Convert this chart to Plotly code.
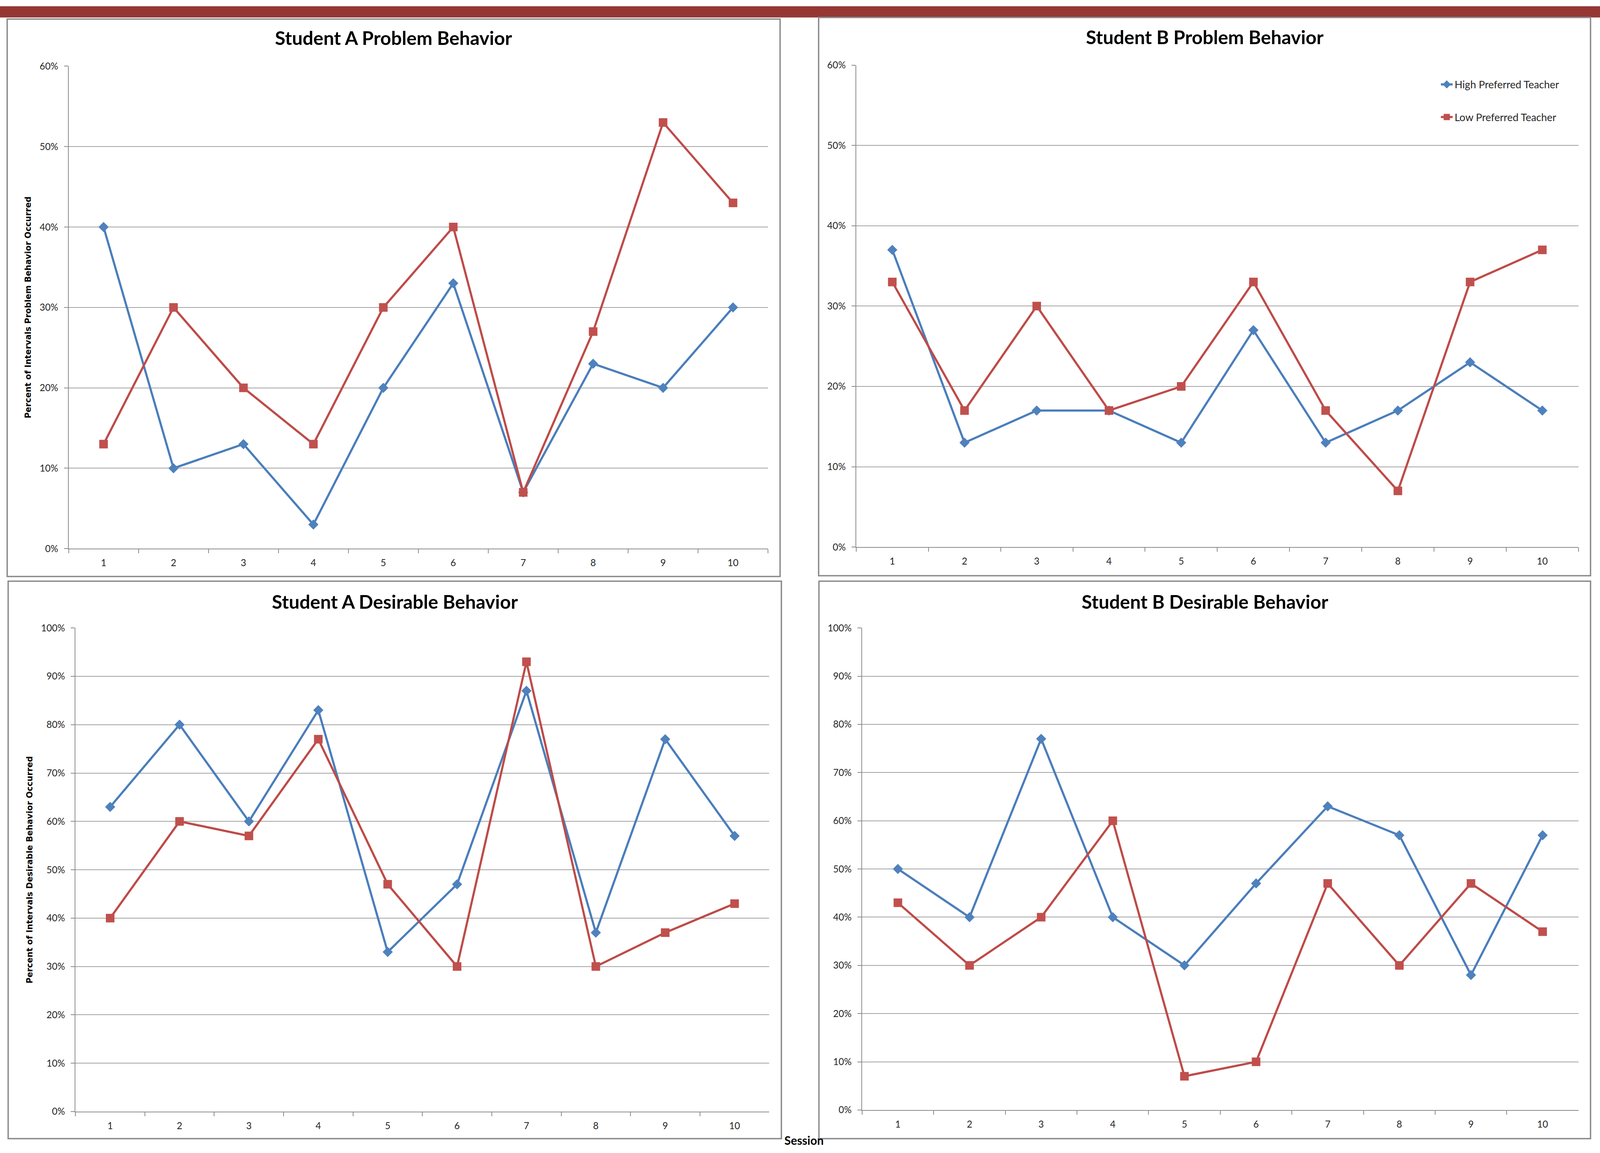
import plotly.graph_objects as go

# reference geometry is measured in reference pixels (4898 x 2951);
# everything is placed as paper fractions so the figure fills the page.
W, H = 4898, 2951
SX = 1.2  # horizontal text widths are scaled down by this factor

# ---------------- data ----------------
sessions = [str(i) for i in range(1, 11)]
series_names = ["High Preferred Teacher", "Low Preferred Teacher"]

a_problem_high = [40, 10, 13, 3, 20, 33, 7, 23, 20, 30]
a_problem_low = [13, 30, 20, 13, 30, 40, 7, 27, 53, 43]

b_problem_high = [37, 13, 17, 17, 13, 27, 13, 17, 23, 17]
b_problem_low = [33, 17, 30, 17, 20, 33, 17, 7, 33, 37]

a_desirable_high = [63, 80, 60, 83, 33, 47, 87, 37, 77, 57]
a_desirable_low = [40, 60, 57, 77, 47, 30, 93, 30, 37, 43]

b_desirable_high = [50, 40, 77, 40, 30, 47, 63, 57, 28, 57]
b_desirable_low = [43, 30, 40, 60, 7, 10, 47, 30, 47, 37]

panel_titles = ["Student A Problem Behavior", "Student B Problem Behavior",
                "Student A Desirable Behavior", "Student B Desirable Behavior"]
y_titles = ["Percent of Intervals Problem Behavior Occurred", None,
            "Percent of Intervals Desirable Behavior Occurred", None]
y_max = [60, 60, 100, 100]
x_title = "Session"

# ---------------- styling ----------------
BLUE_LINE, BLUE_FILL = "#4A7EBB", "#4F81BD"
RED_LINE, RED_FILL = "#BE4B48", "#C0504D"
GRID = "#a3a3a3"
AXIS = "#8c8c8c"
FRAME = "#8a8a8a"
FONT = "Lato"


def fx(p):
    return p / W


def fy(p):
    return 1 - p / H


# plot-area pixel geometry: (x0, x1, ytop, ybottom)
plot_px = [(210, 2351, 155, 1402), (2621, 4832, 152, 1398),
           (231, 2355, 1607, 2857), (2639, 4832, 1607, 2853)]
# frame boxes (x0, x1, y0, y1)
box_px = [(22, 2388, 33, 1474), (2506, 4869, 29, 1472),
          (25, 2392, 1486, 2927), (2507, 4869, 1486, 2927)]
title_dy = [48, 50, 52, 52]
ytitle_x = [86, None, 91, None]

data_sets = [(a_problem_high, a_problem_low), (b_problem_high, b_problem_low),
             (a_desirable_high, a_desirable_low), (b_desirable_high, b_desirable_low)]

fig = go.Figure()
layout = dict(autosize=True, margin=dict(l=0, r=0, t=0, b=0, pad=0),
              paper_bgcolor="white", plot_bgcolor="white",
              font=dict(family=FONT, color="#262626"),
              showlegend=True)
shapes = [dict(type="rect", xref="paper", yref="paper", x0=0, x1=1,
               y0=fy(29), y1=1, fillcolor="#953735", line=dict(width=0),
               layer="below")]
annotations = []
tickfont = dict(size=29 / SX, family=FONT, color="#262626")

for i in range(4):
    n = "" if i == 0 else str(i + 1)
    xa, ya = "x" + n, "y" + n
    high, low = data_sets[i]
    for vals, name, lc, fc, sym, size in [
        (high, series_names[0], BLUE_LINE, BLUE_FILL, "diamond", 20),
        (low, series_names[1], RED_LINE, RED_FILL, "square", 22),
    ]:
        fig.add_trace(go.Scatter(
            x=sessions, y=vals, mode="lines+markers", name=name,
            legendgroup=name, showlegend=(i == 1),
            line=dict(color=lc, width=5.5),
            marker=dict(symbol=sym, size=size, color=fc, line=dict(width=0)),
            xaxis=xa, yaxis=ya))
    x0, x1, yt, yb = plot_px[i]
    layout["xaxis" + n] = dict(
        domain=[fx(x0), fx(x1)], anchor=ya, type="category",
        range=[-0.5, 9.5], tickson="boundaries", ticks="outside",
        ticklen=10, tickwidth=2, tickcolor=AXIS, showline=True,
        linecolor=AXIS, linewidth=2, showgrid=False, tickfont=tickfont,
        ticklabelstandoff=14)
    layout["yaxis" + n] = dict(
        domain=[fy(yb), fy(yt)], anchor=xa, range=[0, y_max[i]],
        dtick=10, ticksuffix="%", ticks="outside", ticklen=10,
        tickwidth=2, tickcolor=AXIS, showline=True, linecolor=AXIS,
        linewidth=2, showgrid=True, gridcolor=GRID, gridwidth=2,
        zeroline=False, tickfont=tickfont, ticklabelstandoff=10)
    bx0, bx1, by0, by1 = box_px[i]
    shapes.append(dict(type="rect", xref="paper", yref="paper",
                       x0=fx(bx0), x1=fx(bx1), y0=fy(by1), y1=fy(by0),
                       line=dict(color=FRAME, width=3.5),
                       fillcolor="rgba(0,0,0,0)", layer="below"))
    annotations.append(dict(
        text="<b>" + panel_titles[i] + "</b>", xref="paper", yref="paper",
        x=fx((bx0 + bx1) / 2), y=fy(by0 + title_dy[i]), xanchor="center",
        yanchor="middle", showarrow=False,
        font=dict(size=58 / SX, family=FONT, color="black")))
    if y_titles[i]:
        annotations.append(dict(
            text="<b>" + y_titles[i] + "</b>", xref="paper", yref="paper",
            x=fx(ytitle_x[i]), y=fy((yt + yb) / 2), xanchor="center",
            yanchor="middle", textangle=-90, showarrow=False,
            font=dict(size=21, family="DejaVu Sans", color="black")))

annotations.append(dict(
    text="<b>" + x_title + "</b>", xref="paper", yref="paper",
    x=fx(2462), y=0, xanchor="center", yanchor="bottom",
    showarrow=False, font=dict(size=30, family=FONT, color="black")))

layout["shapes"] = shapes
layout["annotations"] = annotations
layout["legend"] = dict(x=fx(4405), y=fy(178), xanchor="left", yanchor="top",
                        bgcolor="rgba(0,0,0,0)", tracegroupgap=46,
                        font=dict(size=26.5, family=FONT, color="#262626"),
                        itemwidth=30)
fig.update_layout(**layout)
fig.write_html("out.html", default_width="100vw", default_height="100vh",
               config={"displayModeBar": False},
               post_script="document.body.style.margin='0';"
                           "document.body.style.overflow='hidden';")
